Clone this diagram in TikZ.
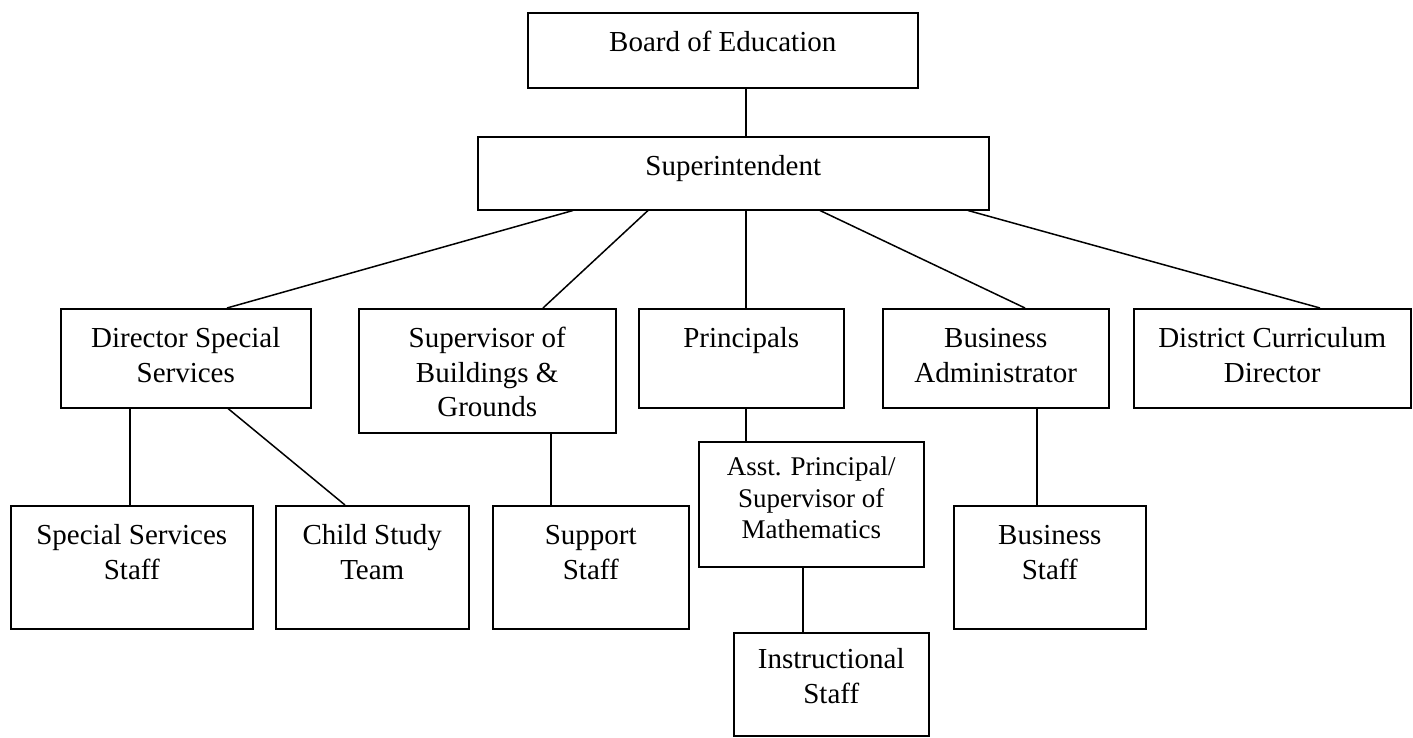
\documentclass[tikz,border=0pt]{standalone}
\usepackage{fontspec}
\setmainfont{Liberation Serif}
\usetikzlibrary{calc}

% box content: width, height, text; optional first-baseline offset
\newcommand{\orgtext}[4][39]{%
  \parbox[c][#3pt][t]{#2pt}{\centering\rule{0pt}{#1pt}#4}}

\begin{document}
\begin{tikzpicture}[x=1pt, y=-1pt,
  orgbox/.style={draw, line width=1.5pt, inner sep=0pt, anchor=north west,
    font=\fontsize{29}{34.5}\selectfont},
  smallbox/.style={orgbox, font=\fontsize{27}{31.5}\selectfont},
  link/.style={line width=1.5pt}]
\useasboundingbox[fill=white] (0,0) rectangle (1413,737);

% top levels
\node[orgbox] (board) at (527,12)  {\orgtext{390}{75}{Board of Education}};
\node[orgbox] (super) at (477,136) {\orgtext{511}{73}{Superintendent}};

% second level
\node[orgbox] (dir)  at (60,308)   {\orgtext{250}{99}{Director Special\\Services}};
\node[orgbox] (sup)  at (358,308)  {\orgtext{257}{124}{Supervisor of\\Buildings \&\\Grounds}};
\node[orgbox] (prin) at (638,308)  {\orgtext{205}{99}{Principals}};
\node[orgbox] (badm) at (882,308)  {\orgtext{226}{99}{Business\\Administrator}};
\node[orgbox] (dcd)  at (1133,308) {\orgtext{277}{99}{District Curriculum\\Director}};

% third level
\node[orgbox] (sss)  at (10,505)   {\orgtext{242}{123}{Special Services\\Staff}};
\node[orgbox] (cst)  at (275,505)  {\orgtext{193}{123}{Child Study\\Team}};
\node[orgbox] (sst)  at (492,505)  {\orgtext{196}{123}{Support\\Staff}};
\node[smallbox] (asst) at (698,441) {\orgtext[34]{225}{125}{Asst. Principal/\\Supervisor of\\Mathematics}};
\node[orgbox] (bst)  at (953,505)  {\orgtext{192}{123}{Business\\Staff}};
\node[orgbox] (inst) at (733,632)  {\orgtext[36]{195}{103}{Instructional\\Staff}};

% connectors
\draw[link] (board.south -| 746,0) -- (super.north -| 746,0);
\draw[link] (super.south -| 573,0) -- (dir.north -| 227,0);
\draw[link] (super.south -| 648,0) -- (sup.north -| 543,0);
\draw[link] (super.south -| 746,0) -- (prin.north -| 746,0);
\draw[link] (super.south -| 820,0) -- (badm.north -| 1025,0);
\draw[link] (super.south -| 968,0) -- (dcd.north -| 1320,0);

\draw[link] (dir.south -| 130,0) -- (sss.north -| 130,0);
\draw[link] (dir.south -| 228,0) -- (cst.north -| 345,0);
\draw[link] (sup.south -| 551,0) -- (sst.north -| 551,0);
\draw[link] (prin.south -| 746,0) -- (asst.north -| 746,0);
\draw[link] (asst.south -| 803,0) -- (inst.north -| 803,0);
\draw[link] (badm.south -| 1037,0) -- (bst.north -| 1037,0);
\end{tikzpicture}
\end{document}
